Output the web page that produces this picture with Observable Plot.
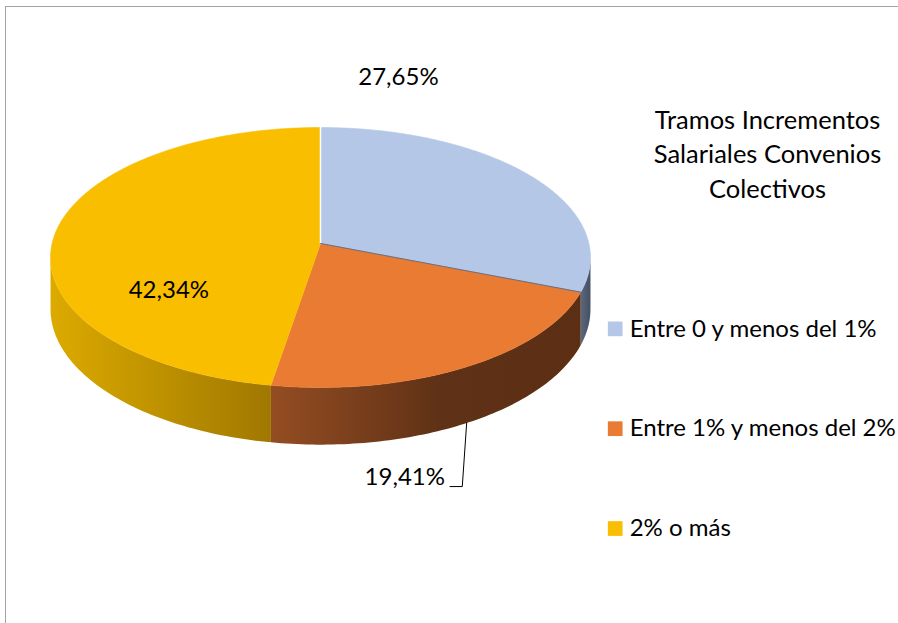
<!DOCTYPE html>
<html><head><meta charset="utf-8">
<script src="https://cdn.jsdelivr.net/npm/d3@7"></script>
<script src="https://cdn.jsdelivr.net/npm/@observablehq/plot@0.6"></script>
<style>
html,body{margin:0;padding:0;background:#fff;overflow:hidden;}
#wrap{position:relative;width:898px;height:623px;}
#wrap svg{position:absolute;left:0;top:0;}
#border{position:absolute;left:4.75px;top:5.75px;right:-10px;bottom:-10px;border-top:1.6px solid #a3a3a3;border-left:1.6px solid #a3a3a3;pointer-events:none;}
</style></head><body><div id="wrap"><div id="border"></div></div>
<script>
// ---- data ----
const categories = ["Entre 0 y menos del 1%", "Entre 1% y menos del 2%", "2% o más"];
const values = [27.65, 19.41, 42.34];
const valueLabels = ["27,65%", "19,41%", "42,34%"];
const colors = ["#b4c7e7", "#ea7b32", "#f9be00"];
const titleLines = ["Tramos Incrementos", "Salariales Convenios", "Colectivos"];

// ---- style / layout ----
const sideGradients = [
  [[0, "#5b687e"], [1, "#444f62"]],
  [[0, "#944d22"], [0.55, "#5f3116"], [1, "#5c2f15"]],
  [[0, "#dcaa00"], [1, "#a07800"]]
];
const K = -0.1077, TILT = 0.4787, DEPTH = 0.19;   // perspective, tilt, thickness
const STEP = Math.PI / 180;
const FONT = 24, TITLE_FONT = 25.5;
const LEG_X = 1.098, LEG_Y0 = 0.318, LEG_STEP = 0.372;
const labelPlacement = [
  {r: 1, h: 0, dx: -131, dy: -98},
  null,
  {r: 0.6, h: 0, dx: 8, dy: 53}
];

const proj = (r, phi, h = 0) => {
  const X = r * Math.sin(phi), Z = -r * Math.cos(phi);
  const w = 1 + K * Z;
  return {x: X / w, y: (TILT * Z + h) / w};
};
const arc = (a0, a1, h) => {
  const n = Math.max(2, Math.ceil((a1 - a0) / STEP));
  return d3.range(n + 1).map(k => proj(1, a0 + (a1 - a0) * k / n, h));
};

const total = d3.sum(values);
let acc = 0;
const slices = categories.map((cat, i) => {
  const a0 = acc / total * 2 * Math.PI; acc += values[i];
  const a1 = acc / total * 2 * Math.PI;
  return {cat, i, a0, a1, mid: (a0 + a1) / 2};
});

const topPts = slices.flatMap(s => [proj(0, 0), ...arc(s.a0, s.a1, 0)].map(p => ({...p, cat: s.cat})));
const phiR = Math.acos(K), phiL = 2 * Math.PI - phiR;
const sides = slices.map(s => {
  const a = Math.max(s.a0, phiR), b = Math.min(s.a1, phiL);
  if (b <= a) return null;
  return {i: s.i, pts: [...arc(a, b, 0), ...arc(a, b, DEPTH).reverse()]};
}).filter(Boolean);

const defs = () => {
  const ns = "http://www.w3.org/2000/svg";
  const d = document.createElementNS(ns, "defs");
  sideGradients.forEach((stops, i) => {
    const g = document.createElementNS(ns, "linearGradient");
    g.setAttribute("id", "side" + i);
    g.setAttribute("x1", "0"); g.setAttribute("x2", "1");
    g.setAttribute("y1", "0"); g.setAttribute("y2", "0");
    stops.forEach(([o, c]) => {
      const st = document.createElementNS(ns, "stop");
      st.setAttribute("offset", o); st.setAttribute("stop-color", c);
      g.appendChild(st);
    });
    d.appendChild(g);
  });
  return d;
};

// labels
const simpleLabels = slices.filter(s => labelPlacement[s.i]).map(s => {
  const lp = labelPlacement[s.i];
  return {...proj(lp.r, s.mid, lp.h), text: valueLabels[s.i], dx: lp.dx, dy: lp.dy};
});
const os = slices[1];
const A = proj(1, os.mid, DEPTH);
const B = {x: A.x - 0.0164, y: A.y + 0.2366};
const C = {x: B.x - 0.0458, y: B.y};
const leader = [A, B, C];

const legend = categories.map((cat, i) => ({cat, x: LEG_X, y: LEG_Y0 + i * LEG_STEP}));

const chart = Plot.plot({
  width: 898, height: 623,
  margin: 0,
  style: {fontFamily: "Lato, sans-serif", background: "transparent", overflow: "visible"},
  x: {domain: [-1, 1], range: [320 - 268.4, 320 + 268.4], axis: null},
  y: {domain: [-1, 1], range: [243 - 268.4, 243 + 268.4], axis: null},
  color: {domain: categories, range: colors},
  marks: [
    defs,
    ...sides.map(sd => Plot.line(sd.pts, {x: "x", y: "y", fill: `url(#side${sd.i})`, stroke: "none"})),
    Plot.line(topPts, {x: "x", y: "y", z: "cat", fill: "cat", stroke: "cat", strokeWidth: 0.6}),
    Plot.line([proj(0, 0), proj(1, slices[0].a0)], {x: "x", y: "y", stroke: "#ffffff", strokeWidth: 1.5}),
    Plot.line([proj(0, 0), proj(1, slices[0].a1)], {x: "x", y: "y", stroke: "#62708a", strokeWidth: 1}),
    ...simpleLabels.map(l => Plot.text([l], {x: "x", y: "y", text: "text", dx: l.dx, dy: l.dy, fontSize: FONT, fill: "#000"})),
    Plot.line(leader, {x: "x", y: "y", stroke: "#000", strokeWidth: 1}),
    Plot.text([{...C, text: valueLabels[1]}], {x: "x", y: "y", text: "text", textAnchor: "end", dx: -5, dy: -9, fontSize: FONT, fill: "#000"}),
    Plot.text([titleLines.join("\n")], {frameAnchor: "top-right", dx: -131, dy: 104, textAnchor: "middle", lineAnchor: "top", lineHeight: 1.35, fontSize: TITLE_FONT, fill: "#000"}),
    Plot.dot(legend, {x: "x", y: "y", fill: "cat", symbol: "square", r: 8.3, stroke: "none"}),
    Plot.text(legend, {x: "x", y: "y", text: "cat", textAnchor: "start", dx: 14.5, fontSize: FONT, fill: "#000"})
  ]
});
document.getElementById("wrap").insertBefore(chart, document.getElementById("border"));
</script></body></html>
